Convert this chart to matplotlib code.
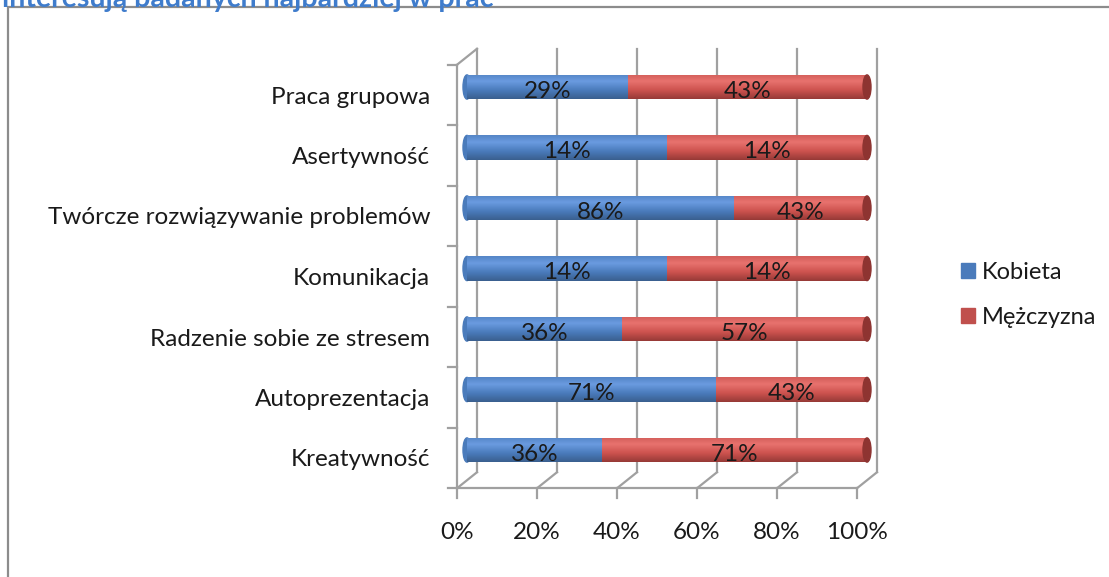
import numpy as np
import matplotlib.pyplot as plt
from matplotlib.colors import LinearSegmentedColormap
from matplotlib.patches import Ellipse, Rectangle, Patch

plt.rcParams['font.family'] = ['Lato', 'DejaVu Sans']

categories = ["Kreatywność", "Autoprezentacja", "Radzenie sobie ze stresem",
              "Komunikacja", "Twórcze rozwiązywanie problemów", "Asertywność",
              "Praca grupowa"]
kobieta = [36, 71, 36, 14, 86, 14, 29]
mezczyzna = [71, 43, 57, 14, 43, 14, 43]
series_names = ["Kobieta", "Mężczyzna"]
x_ticks = [0, 0.2, 0.4, 0.6, 0.8, 1.0]
x_tick_labels = ["0%", "20%", "40%", "60%", "80%", "100%"]

W, H = 1109, 577
BLUE = ["#3a5f8f", "#4a7bbb", "#6a9be0", "#5585c6"]
RED = ["#963a37", "#cc524e", "#e8726e", "#d35e5a"]
GRID = "#a0a0a0"


def shade(ax, bars, stops):
    cmap = LinearSegmentedColormap.from_list("cyl", list(zip([0, 0.35, 0.72, 1.0], stops)))
    grad = np.linspace(0, 1, 64).reshape(-1, 1)
    for b in bars:
        x, y = b.get_x(), b.get_y()
        im = ax.imshow(grad, extent=[x, x + b.get_width(), y, y + b.get_height()],
                       origin="lower", cmap=cmap, aspect="auto", zorder=3,
                       interpolation="bilinear")
        im.set_clip_path(b)


def main():
    fig = plt.figure(figsize=(W / 100, H / 100), dpi=100)

    # outer frame of the chart area
    fig.patches.append(Rectangle((8 / W, -0.1), 1.2, 1 - 7 / H + 0.1,
                                 transform=fig.transFigure, fill=False,
                                 ec="#8c8c8c", lw=1.6))
    fig.text(494 / W, 1 + 1 / H, "interesują badanych najbardziej w prac",
             ha="right", va="center", color="#3f7ccc", fontsize=20.5,
             fontweight="bold")

    # axes = plane of the bars (middle depth of the 3D box); 0..1 -> 467..867 px
    px = 400
    xmin, xmax = -0.03, 1.03
    left = 467 + xmin * px
    right = 467 + xmax * px
    top, bottom = 56.75, 480.25
    ax = fig.add_axes([left / W, 1 - bottom / H, (right - left) / W, (bottom - top) / H])
    n = len(categories)

    dx = 10 / px
    dy = 8 / ((bottom - top) / n)

    tot = np.array(kobieta) + np.array(mezczyzna)
    fk = np.array(kobieta) / tot
    fm = np.array(mezczyzna) / tot
    y = np.arange(n)

    # back wall grid + floor
    for xv in x_ticks:
        ax.plot([xv + dx, xv + dx], [-0.5 + dy, n - 0.5 + dy], color=GRID, lw=1.6,
                clip_on=False, zorder=1)
        ax.plot([xv + dx, xv - dx], [-0.5 + dy, -0.5 - dy], color=GRID, lw=1.6,
                clip_on=False, zorder=1)
        ax.plot([xv - dx, xv - dx], [-0.5 - dy, -0.5 - dy - 0.16], color=GRID, lw=1.6,
                clip_on=False, zorder=1)
    # left wall
    ax.plot([-dx, -dx], [-0.5 - dy, n - 0.5 - dy], color=GRID, lw=1.6, clip_on=False)
    ax.plot([-dx, dx], [n - 0.5 - dy, n - 0.5 + dy], color=GRID, lw=1.6, clip_on=False)
    ax.plot([-dx, 1 - dx], [-0.5 - dy, -0.5 - dy], color=GRID, lw=1.6, clip_on=False)
    for k in range(n + 1):
        ax.plot([-dx - 0.022, -dx], [k - 0.5 - dy] * 2, color=GRID, lw=1.6, clip_on=False)

    h = 0.4
    cap_w = 0.02
    for i in range(n):
        ax.add_patch(Ellipse((0, i), cap_w, h, color=BLUE[1], zorder=2, clip_on=False))
    bk = ax.barh(y, fk, height=h, color=BLUE[1], zorder=3)
    bm = ax.barh(y, fm, left=fk, height=h, color=RED[1], zorder=3)
    shade(ax, bk, BLUE)
    shade(ax, bm, RED)
    for i in range(n):
        ax.add_patch(Ellipse((1, i), cap_w, h, color="#8e3431", zorder=4, clip_on=False))

    for i in range(n):
        ax.text(fk[i] / 2, i - 0.07, f"{kobieta[i]}%", ha="center", va="center",
                fontsize=17.5, color="#1a1a1a", zorder=5)
        ax.text(fk[i] + fm[i] / 2, i - 0.07, f"{mezczyzna[i]}%", ha="center",
                va="center", fontsize=17.5, color="#1a1a1a", zorder=5)

    ax.set_yticks(y - dy, labels=categories)
    ax.set_xticks(np.array(x_ticks) - dx, labels=x_tick_labels)
    ax.set_xlim(xmin, xmax)
    ax.set_ylim(-0.5, n - 0.5)
    ax.tick_params(axis="y", length=0, pad=(left - 430) * 0.72, labelsize=17.5,
                   labelcolor="#1a1a1a")
    ax.tick_params(axis="x", length=0, pad=30, labelsize=17.5, labelcolor="#1a1a1a")
    for s in ax.spines.values():
        s.set_visible(False)

    handles = [Patch(color=BLUE[1]), Patch(color="#c0504d")]
    fig.legend(handles, series_names, loc="center left",
               bbox_to_anchor=(961 / W, 1 - 295 / H), frameon=False, fontsize=17,
               handlelength=0.6, handleheight=0.6, handletextpad=0.3,
               labelspacing=1.0, labelcolor="#1a1a1a", borderpad=0,
               borderaxespad=0)

    fig.savefig("out.png", dpi=100)


if __name__ == "__main__":
    main()
